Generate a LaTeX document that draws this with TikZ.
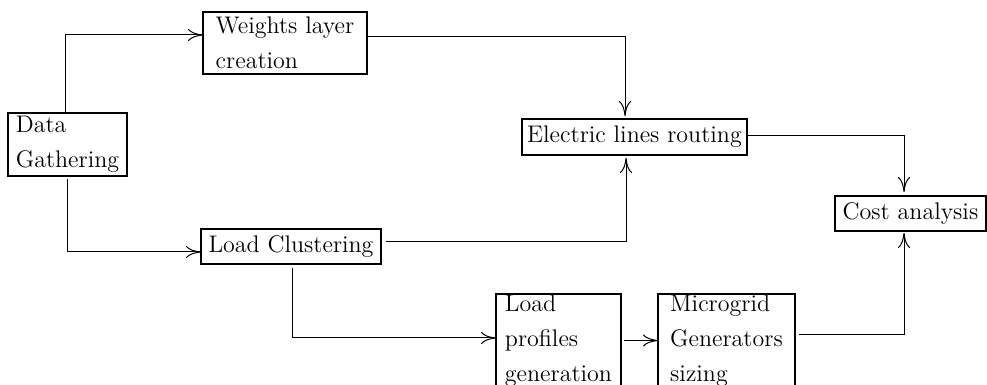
\documentclass[tikz,border=0pt]{standalone}
\usetikzlibrary{arrows.meta}
\begin{document}
\begin{tikzpicture}[x=0.5pt,y=-0.5pt,
  box/.style={draw,line width=0.6pt,inner sep=0pt,outer sep=0pt,align=left,
    font=\fontsize{12}{17.5}\selectfont},
  arr/.style={line width=0.5pt,-{To[length=7.5pt,width=6pt]}}]
\useasboundingbox (0,0) rectangle (987,385);
\clip (0,0) rectangle (987,385);
\node[box,minimum width=59.5pt,minimum height=31.5pt] (data) at (67.5,144.5) {Data\\Gathering};
\node[box,minimum width=82pt,minimum height=31pt] (weights) at (285,43) {Weights layer\\creation};
\node[box,minimum width=112.5pt,minimum height=18pt] (elec) at (634.5,137) {Electric lines routing};
\node[box,minimum width=75.5pt,minimum height=17.5pt] (cost) at (910.5,213.5) {Cost analysis};
\node[box,minimum width=90pt,minimum height=17.5pt] (clust) at (291,246.5) {Load Clustering};
\node[box,minimum width=62.5pt,minimum height=46.5pt] (prof) at (558.5,340.5) {Load\\profiles\\generation};
\node[box,minimum width=68.5pt,minimum height=46.5pt] (micro) at (726.5,340.5) {Microgrid\\Generators\\sizing};
\draw[arr] ([xshift=-1.25pt]data.north) |- ([yshift=4pt]weights.west);
\draw[arr,shorten <=1.5pt] ([xshift=-0.25pt]data.south) |- ([yshift=-2.75pt]clust.west);
\draw[arr,shorten <=2pt] ([xshift=0.5pt]clust.south) |- ([yshift=1.25pt]prof.west);
\draw[arr,shorten <=1.5pt] (prof.east) -- (micro.west);
\draw[arr,shorten <=2pt,shorten >=1pt] ([yshift=2.75pt]micro.east) -| ([xshift=-3.25pt]cost.south);
\draw[arr,shorten >=1.5pt] ([yshift=3pt]weights.east) -| ([xshift=-4.75pt]elec.north);
\draw[arr,shorten <=2.5pt,shorten >=1.5pt] ([yshift=2.25pt]clust.east) -| ([xshift=-4.25pt]elec.south);
\draw[arr,shorten >=2pt] ([yshift=0.5pt]elec.east) -| ([xshift=-3.25pt]cost.north);
\end{tikzpicture}
\end{document}
